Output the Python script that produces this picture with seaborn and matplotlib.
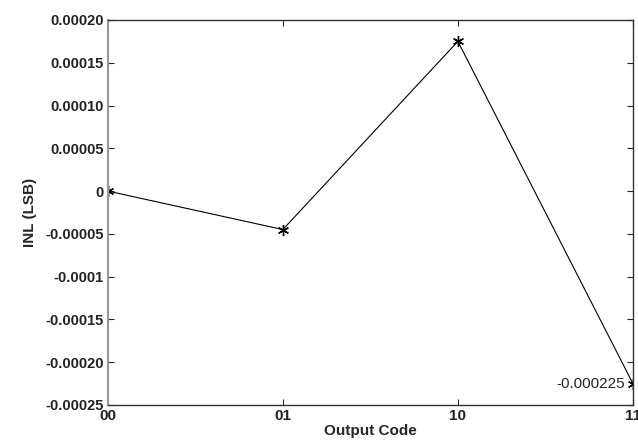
import matplotlib
matplotlib.use("Agg")
import matplotlib.pyplot as plt
import seaborn as sns
import pandas as pd
from matplotlib import font_manager

codes = ["00", "01", "10", "11"]
inl = [0.0, -0.000045, 0.000175, -0.000225]
yticks = [0.00020, 0.00015, 0.00010, 0.00005, 0, -0.00005, -0.0001, -0.00015, -0.00020, -0.00025]
ytick_labels = ["0.00020", "0.00015", "0.00010", "0.00005", "0", "-0.00005", "-0.0001", "-0.00015", "-0.00020", "-0.00025"]
annot_text = "-0.000225"

sns.set_style("ticks")
plt.rcParams["font.family"] = ["Liberation Sans", "DejaVu Sans"]

df = pd.DataFrame({"code": codes, "inl": inl})
fig = plt.figure(figsize=(6.38, 4.44), dpi=100)
ax = fig.add_axes([0.169, 0.088, 0.823, 0.867])
sns.lineplot(data=df, x="code", y="inl", ax=ax, color="black", linewidth=0.8,
             marker=(6, 2, 0), markersize=8, markeredgecolor="black",
             markerfacecolor="black", markeredgewidth=1.0)
ax.set_xlim(0, 3)
ax.set_ylim(-0.00025, 0.00020)
ax.set_yticks(yticks)
ax.set_yticklabels(ytick_labels, fontsize=10.5, fontweight="bold", color="#222222")
ax.set_xticks(range(len(codes)))
ax.set_xticklabels(codes, fontsize=11, fontweight="bold", color="#222222")
ax.tick_params(direction="in", length=4, top=True, right=True, width=0.8, pad=3)
ax.set_xlabel("Output Code", fontsize=11, fontweight="bold", labelpad=1)
ax.set_ylabel("INL (LSB)", fontsize=11, fontweight="bold", labelpad=6)
for s in ax.spines.values():
    s.set_linewidth(1.0)
    s.set_color("#333333")
ax.spines["left"].set_color("#999999")
ax.spines["left"].set_linewidth(1.5)
ax.annotate(annot_text, xy=(3, inl[3]), xytext=(-6, 0), textcoords="offset points",
            ha="right", va="center", fontsize=11, color="#222222")
fig.savefig("out.png", dpi=100)
